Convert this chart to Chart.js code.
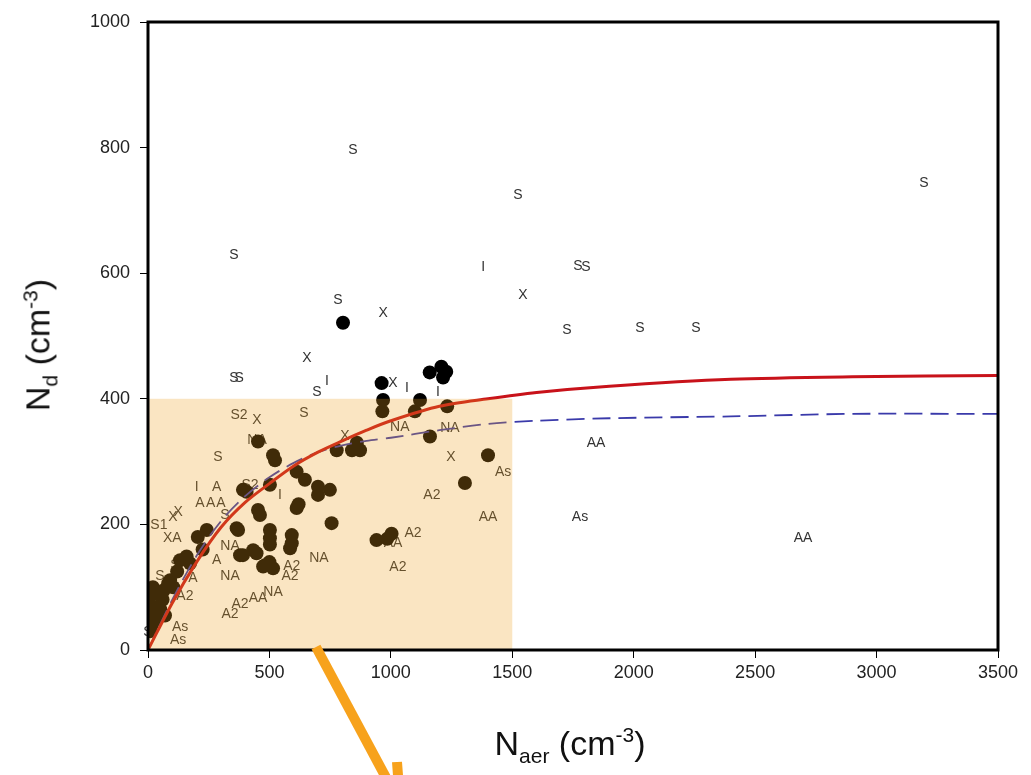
<!DOCTYPE html>
<html>
<head>
<meta charset="utf-8">
<script src="https://cdn.jsdelivr.net/npm/chart.js@4.4.1/dist/chart.umd.min.js"></script>
<style>
  body { margin: 0; background: #fff; font-family: "Liberation Sans", Arial, sans-serif; }
  #wrap { position: relative; width: 1031px; height: 775px; }
  .axisTitle { position: absolute; font-size: 34px; color: #111; white-space: nowrap; line-height: 1; }
  .axisTitle sub, .axisTitle sup { font-size: 21px; }
  #yTitle { left: 40px; top: 345px; transform: translate(-50%, -50%) rotate(-90deg); }
  #xTitle { left: 570px; top: 745px; transform: translate(-50%, -50%); }
</style>
</head>
<body>
<div id="wrap">
  <canvas id="chartNd"></canvas>
  <div class="axisTitle" id="yTitle">N<sub>d</sub> (cm<sup>-3</sup>)</div>
  <div class="axisTitle" id="xTitle">N<sub>aer</sub> (cm<sup>-3</sup>)</div>
</div>
<script>
// fitted curves
const fitX = [0, 100, 200, 300, 400, 500, 600, 700, 800, 900, 1000, 1200, 1400, 1600, 1900, 2400, 2900, 3500];
const redY = [0, 75, 140, 195, 235, 265, 293, 315, 333, 350, 365, 388, 400, 410, 420, 431, 435, 437];
const blueY = [0, 80, 150, 205, 245, 275, 298, 315, 326, 333, 338, 350, 360, 365, 369, 372, 376, 376];

// filled markers
const dotX = [803, 962, 968, 965, 1160, 1208, 1215, 1228, 1120, 1099, 1232, 1161, 873, 860, 777, 1400, 1305, 941, 1003, 985,
  756, 749, 700, 646, 612, 523, 515, 453, 700, 406, 391, 502, 453, 461, 612, 620, 371, 502, 502, 502,
  592, 592, 585, 391, 447, 474, 515, 500, 242, 365, 379, 159, 173, 83, 104, 91, 22, 9, 36, 5,
  50, 60, 30, 15, 70, 10, 40, 65, 20, 0, 120, 132, 205, 225, 433, 482, 840];
const dotY = [521, 425, 398, 380, 442, 451, 434, 443, 398, 380, 388, 340, 318, 330, 318, 310, 266, 175, 185, 177,
  202, 255, 260, 271, 284, 302, 310, 332, 247, 252, 255, 263, 223, 215, 226, 232, 191, 191, 178, 168,
  183, 170, 162, 151, 154, 133, 130, 140, 191, 194, 151, 149, 138, 106, 100, 111, 69, 59, 48, 75,
  65, 80, 90, 40, 55, 30, 60, 95, 100, 55, 125, 143, 180, 160, 159, 135, 318];

// text markers
const labelText = ["S", "S", "S", "S", "I", "S", "S", "X", "S", "X", "X", "S", "S", "S", "I", "X", "I", "I", "S", "S",
  "S", "AA", "As", "AA", "S2", "X", "S", "S", "NA", "X", "NA", "NA", "X", "As", "A2", "AA", "A2", "A2", "AA", "NA",
  "NA", "A2", "A2", "A2", "A2", "AA", "NA", "I", "A", "A", "A", "A", "S1", "X", "X", "XA", "S", "S", "A2", "As",
  "As", "S", "A", "A", "S", "S2", "I", "NA"];
const labelX = [844, 1523, 3195, 354, 1380, 1770, 1803, 1544, 782, 968, 654, 354, 375, 696, 737, 1009, 1066, 1194, 1725, 2026,
  2256, 1845, 1779, 2697, 375, 449, 642, 288, 449, 811, 1037, 1243, 1247, 1462, 1169, 1400, 1091, 1029, 1009, 704,
  338, 585, 592, 338, 379, 453, 515, 200, 283, 214, 258, 300, 45, 124, 103, 100, 317, 49, 152, 132,
  124, 0, 283, 185, 111, 420, 543, 338];
const labelY = [796, 725, 744, 629, 610, 612, 609, 565, 557, 537, 465, 433, 433, 411, 428, 425, 417, 411, 510, 513,
  513, 330, 212, 178, 374, 366, 377, 307, 334, 340, 355, 353, 307, 283, 247, 212, 186, 132, 170, 146,
  118, 117, 133, 57, 73, 83, 92, 260, 260, 234, 234, 234, 199, 220, 212, 178, 215, 117, 85, 37,
  16, 29, 143, 115, 135, 263, 247, 165];

// shaded box and arrow anchor
const shadeX = [0, 1500];
const shadeY = [0, 400];
const arrowFrom = [700, 0];

const xTicks = [0, 500, 1000, 1500, 2000, 2500, 3000, 3500];
const yTicks = [0, 200, 400, 600, 800, 1000];

const markPlugin = {
  id: "markPlugin",
  beforeDatasetsDraw(chart) {
    const { ctx, scales } = chart;
    ctx.save();
    ctx.font = '14px "Liberation Sans", Arial, sans-serif';
    ctx.fillStyle = "#333";
    ctx.textAlign = "center";
    ctx.textBaseline = "middle";
    labelText.forEach((t, i) => {
      ctx.fillText(t, scales.x.getPixelForValue(labelX[i]), scales.y.getPixelForValue(labelY[i]));
    });
    ctx.restore();
  },
  afterDatasetsDraw(chart) {
    const { ctx, scales, chartArea } = chart;
    const x0 = scales.x.getPixelForValue(shadeX[0]);
    const x1 = scales.x.getPixelForValue(shadeX[1]);
    const y0 = scales.y.getPixelForValue(shadeY[0]);
    const y1 = scales.y.getPixelForValue(shadeY[1]);
    ctx.save();
    ctx.fillStyle = "rgba(238, 160, 30, 0.27)";
    ctx.fillRect(x0, y1, x1 - x0, y0 - y1);

    ctx.strokeStyle = "#000";
    ctx.lineWidth = 3;
    ctx.strokeRect(chartArea.left, chartArea.top, chartArea.right - chartArea.left, chartArea.bottom - chartArea.top);

    // orange arrow pointing down out of the box
    const ax = scales.x.getPixelForValue(arrowFrom[0]);
    const ay = scales.y.getPixelForValue(arrowFrom[1]);
    const tipX = ax + 80;
    const tipY = ay + 150;
    ctx.strokeStyle = "#f7a21c";
    ctx.lineWidth = 10;
    ctx.lineCap = "butt";
    ctx.beginPath();
    ctx.moveTo(ax - 2, ay - 3);
    ctx.lineTo(tipX, tipY);
    ctx.stroke();
    ctx.beginPath();
    ctx.moveTo(tipX + 2, tipY + 2);
    ctx.lineTo(tipX - 1, tipY - 38);
    ctx.moveTo(tipX + 2, tipY + 2);
    ctx.lineTo(tipX - 36, tipY - 18);
    ctx.stroke();
    ctx.restore();
  },
};

const tickFont = { family: '"Liberation Sans", Arial, sans-serif', size: 18 };

const chartNd = new Chart(document.getElementById("chartNd").getContext("2d"), {
  type: "scatter",
  data: {
    datasets: [
      {
        label: "fit red",
        type: "line",
        data: fitX.map((v, i) => ({ x: v, y: redY[i] })),
        borderColor: "#c8121a",
        borderWidth: 3,
        pointRadius: 0,
        tension: 0.3,
        fill: false,
      },
      {
        label: "fit blue",
        type: "line",
        data: fitX.map((v, i) => ({ x: v, y: blueY[i] })),
        borderColor: "#3a3aaa",
        borderWidth: 1.8,
        borderDash: [18, 8],
        pointRadius: 0,
        tension: 0.3,
        fill: false,
      },
      {
        label: "obs",
        data: dotX.map((v, i) => ({ x: v, y: dotY[i] })),
        backgroundColor: "#000",
        borderColor: "#000",
        borderWidth: 0,
        pointRadius: 7,
        pointHoverRadius: 7,
      },
    ],
  },
  options: {
    responsive: true,
    maintainAspectRatio: false,
    animation: false,
    layout: { padding: { left: 0, right: 33, top: 22, bottom: 0 } },
    plugins: { legend: { display: false }, tooltip: { enabled: false } },
    scales: {
      x: {
        type: "linear",
        min: 0,
        max: 3500,
        afterBuildTicks: (s) => { s.ticks = xTicks.map((v) => ({ value: v })); },
        afterFit: (s) => { s.height = 125; },
        border: { display: false },
        grid: { drawOnChartArea: false, drawTicks: true, tickLength: 8, color: "#000" },
        ticks: { color: "#222", font: tickFont, padding: 4, maxRotation: 0, callback: (v) => String(v) },
      },
      y: {
        type: "linear",
        min: 0,
        max: 1000,
        afterBuildTicks: (s) => { s.ticks = yTicks.map((v) => ({ value: v })); },
        afterFit: (s) => { s.width = 148; },
        border: { display: false },
        grid: { drawOnChartArea: false, drawTicks: true, tickLength: 8, color: "#000" },
        ticks: { color: "#222", font: tickFont, padding: 10, callback: (v) => String(v) },
      },
    },
  },
  plugins: [markPlugin],
});
</script>
</body>
</html>
